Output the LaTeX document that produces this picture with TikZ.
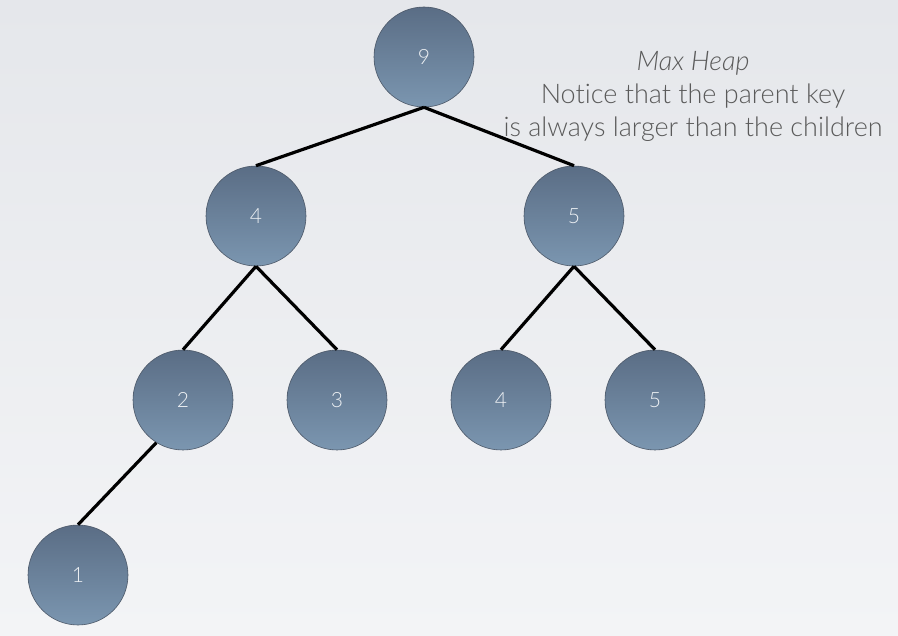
\documentclass[tikz,border=0pt]{standalone}
\usepackage{fontspec}
\setmainfont{Lato}[UprightFont=* Light, ItalicFont=* Light Italic, Ligatures=NoCommon]
\usetikzlibrary{shadows}
\definecolor{bgtop}{HTML}{E5E7EB}
\definecolor{bgbot}{HTML}{F3F4F6}
\definecolor{ctop}{HTML}{5A6D85}
\definecolor{cbot}{HTML}{7B96B0}
\definecolor{cedge}{HTML}{4C5868}
\definecolor{ctext}{HTML}{EEF1F4}
\definecolor{note}{HTML}{5A5A5A}
\begin{document}
\begin{tikzpicture}[x=1pt,y=-1pt,
  keynode/.style={circle, minimum size=100pt, inner sep=0pt, draw=cedge, line width=0.6pt,
    top color=ctop, bottom color=cbot, text=ctext, font=\fontsize{21}{24}\selectfont},
  edge/.style={line width=3.2pt, black},
  notetext/.style={text=note, font=\fontsize{27}{33}\selectfont, align=center}]
\useasboundingbox (0,0) rectangle (898,636);
\shade[top color=bgtop, bottom color=bgbot] (0,0) rectangle (898,636);
\node[keynode] (n9) at (424,57) {9};
\node[keynode] (n4) at (256,216) {4};
\node[keynode] (n5) at (574,216) {5};
\node[keynode] (n2) at (183,400) {2};
\node[keynode] (n3) at (337,400) {3};
\node[keynode] (n4b) at (501,400) {4};
\node[keynode] (n5b) at (655,400) {5};
\node[keynode] (n1) at (78,575) {1};
\draw[edge] (n9.south) -- (n4.north);
\draw[edge] (n9.south) -- (n5.north);
\draw[edge] (n4.south) -- (n2.north);
\draw[edge] (n4.south) -- (n3.north);
\draw[edge] (n5.south) -- (n4b.north);
\draw[edge] (n5.south) -- (n5b.north);
\draw[edge] (n2.238) -- (n1.north);
\node[notetext] (note) at (693,96) {\textit{Max Heap}\\Notice that the parent key\\is always larger than the children};
\end{tikzpicture}
\end{document}
